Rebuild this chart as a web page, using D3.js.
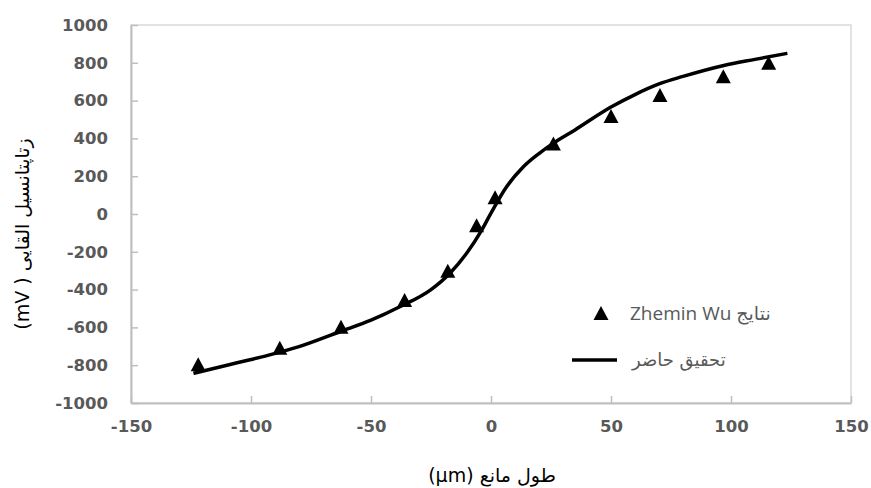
<!DOCTYPE html>
<html>
<head>
<meta charset="utf-8">
<script src="https://cdn.jsdelivr.net/npm/d3@7"></script>
<style>
  body { margin: 0; background: #fff; }
  svg { display: block; }
</style>
</head>
<body>
<div id="chart"></div>
<script>
// measured points (Zhemin Wu)
const wuX = [-122, -88, -62.5, -36, -18, -6, 1.7, 26, 50, 70.4, 96.8, 115.7];
const wuY = [-795, -708, -597, -455, -300, -59, 89, 373, 518, 629, 729, 800];

// present study curve
const curveX = [-124, -110, -100, -93, -80, -63, -50, -38, -25, -17, -10, -4, 0, 6.5, 13.5, 20, 26, 35, 50, 60, 70, 80, 97, 110, 123.5];
const curveY = [-843, -800, -770, -748, -702, -623, -562, -491, -400, -312, -205, -88, 5, 144, 250, 320, 375, 445, 566, 632, 688, 728, 786, 818, 850];

const xTicks = [-150, -100, -50, 0, 50, 100, 150];
const yTicks = [-1000, -800, -600, -400, -200, 0, 200, 400, 600, 800, 1000];

const legendLabels = ["Zhemin Wu نتایج", "تحقیق حاضر"];
const xTitle = "(µm)  طول مانع";
const yTitle = "(mV ) زتاپتانسیل القایی";

document.addEventListener("DOMContentLoaded", () => {
  const W = 871, H = 488;
  const m = {left: 131, right: 20, top: 25, bottom: 85};

  const svg = d3.select("#chart").append("svg")
    .attr("width", W).attr("height", H);

  const x = d3.scaleLinear().domain([-150, 150]).range([m.left, W - m.right]);
  const y = d3.scaleLinear().domain([-1000, 1000]).range([H - m.bottom, m.top]);

  // plot border
  svg.append("rect")
    .attr("x", x(-150)).attr("y", y(1000))
    .attr("width", x(150) - x(-150)).attr("height", y(-1000) - y(1000))
    .attr("fill", "none").attr("stroke", "#d9d9d9").attr("stroke-width", 1.5);

  // axes with inside ticks
  const fmt = d => String(d);
  const xAxis = svg.append("g")
    .attr("transform", `translate(0,${y(-1000)})`)
    .call(d3.axisBottom(x).tickValues(xTicks).tickFormat(fmt).tickSizeInner(-7).tickSizeOuter(0).tickPadding(17));
  const yAxis = svg.append("g")
    .attr("transform", `translate(${x(-150)},0)`)
    .call(d3.axisLeft(y).tickValues(yTicks).tickFormat(fmt).tickSizeInner(-7).tickSizeOuter(0).tickPadding(23));

  [xAxis, yAxis].forEach(g => {
    g.select(".domain").attr("stroke", "#bfbfbf").attr("stroke-width", 2);
    g.selectAll(".tick line").attr("stroke", "#bfbfbf").attr("stroke-width", 1.5);
    g.selectAll(".tick text")
      .attr("fill", "#595959")
      .style("font-family", "DejaVu Sans")
      .style("font-weight", "bold")
      .style("font-size", "16.5px");
  });

  // curve
  const pts = curveX.map((d, i) => [d, curveY[i]]);
  const line = d3.line()
    .x(d => x(d[0])).y(d => y(d[1]))
    .curve(d3.curveMonotoneX);
  svg.append("path")
    .datum(pts)
    .attr("d", line)
    .attr("fill", "none")
    .attr("stroke", "#000")
    .attr("stroke-width", 3.5);

  // triangle markers
  const tri = (cx, cy, w, h) => {
    const p = d3.path();
    p.moveTo(cx, cy - h / 2);
    p.lineTo(cx + w / 2, cy + h / 2);
    p.lineTo(cx - w / 2, cy + h / 2);
    p.closePath();
    return p.toString();
  };
  svg.append("g").selectAll("path")
    .data(wuX.map((d, i) => [d, wuY[i]]))
    .join("path")
    .attr("d", d => tri(x(d[0]), y(d[1]), 15, 14))
    .attr("fill", "#000");

  // legend
  const leg = svg.append("g");
  leg.append("path").attr("d", tri(601, 313, 15, 14)).attr("fill", "#000");
  leg.append("text")
    .attr("x", 630).attr("y", 313).attr("dy", "0.35em")
    .attr("fill", "#595959")
    .style("font-family", "Open Sans, DejaVu Sans")
    .style("font-size", "19px")
    .text(legendLabels[0]);
  leg.append("line")
    .attr("x1", 572).attr("x2", 617).attr("y1", 360).attr("y2", 360)
    .attr("stroke", "#000").attr("stroke-width", 3.5);
  leg.append("text")
    .attr("x", 632).attr("y", 360).attr("dy", "0.35em")
    .attr("fill", "#595959")
    .style("font-family", "DejaVu Sans")
    .style("font-size", "18px")
    .text(legendLabels[1]);

  // axis titles
  svg.append("text")
    .attr("x", 492).attr("y", 475).attr("dy", "0.35em")
    .attr("text-anchor", "middle")
    .attr("fill", "#000")
    .style("font-family", "DejaVu Sans")
    .style("font-size", "19px")
    .text(xTitle);
  svg.append("text")
    .attr("transform", "translate(22,234) rotate(-90)")
    .attr("text-anchor", "middle").attr("dy", "0.35em")
    .attr("fill", "#000")
    .style("font-family", "DejaVu Sans")
    .style("font-size", "19px")
    .text(yTitle);
});
</script>
</body>
</html>
